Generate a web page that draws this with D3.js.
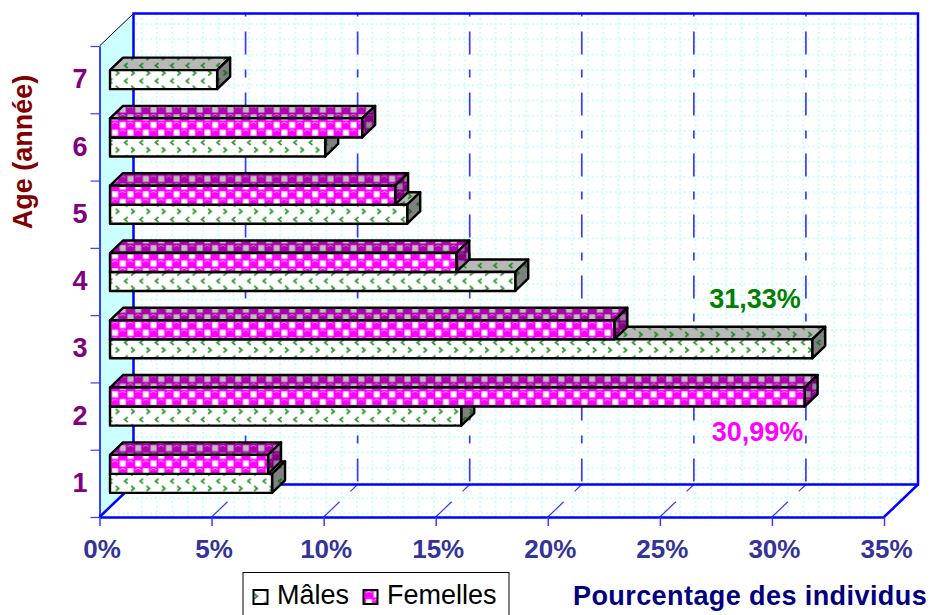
<!DOCTYPE html>
<html><head><meta charset="utf-8">
<script src="https://cdn.jsdelivr.net/npm/d3@7"></script>
<style>html,body{margin:0;padding:0;background:#fff}svg{display:block}text{font-family:"Liberation Sans",Arial,sans-serif}</style>
</head><body><div id="c"></div>
<script>
const ages=["1","2","3","4","5","6","7"];
const males=[7.23,15.67,31.33,18.08,13.26,9.6,4.78];
const females=[7.05,30.99,22.5,15.45,12.72,11.25,null];
const seriesNames=["Mâles","Femelles"];
const xTickValues=[0,5,10,15,20,25,30,35];
const W=932,H=615;
const svg=d3.select("#c").append("svg").attr("width",W).attr("height",H);
const x=d3.scaleLinear().domain([0,35]).range([99.5,884]);
const y=d3.scaleBand().domain(ages).range([517,46]).paddingInner(0.435).paddingOuter(0.2175);
const yEdge=d3.scaleLinear().domain([0,7]).range([517,46]);
const ySeries=d3.scaleBand().domain(seriesNames).range([y.bandwidth(),0]);
const wall={dx:34,dy:-32.5}, bar={dx:13,dy:-12.5}, inset={dx:10.5,dy:-9.5};
const defs=svg.append("defs");
const T=15.39;
function femalePattern(id,bg,sq,hi){
  const p=defs.append("pattern").attr("id",id).attr("patternUnits","userSpaceOnUse").attr("width",T).attr("height",T).attr("x",3.07).attr("y",13.07);
  p.append("rect").attr("width",T).attr("height",T).attr("fill",bg);
  p.append("rect").attr("x",9).attr("y",1.2).attr("width",6).attr("height",6).attr("fill",sq);
  p.append("rect").attr("x",1.3).attr("y",8.9).attr("width",6).attr("height",6).attr("fill",sq);
  [[4.2,4.2],[11.9,11.9]].forEach(c=>{
    p.append("circle").attr("cx",c[0]).attr("cy",c[1]).attr("r",4).attr("fill",bg);
    p.append("path").attr("d",`M${c[0]-2.8} ${c[1]-1.4}q2.8 -2.6 5.6 0`).attr("fill","none").attr("stroke",hi).attr("stroke-width",1);
  });
}
function malePattern(id,bg,col){
  const p=defs.append("pattern").attr("id",id).attr("patternUnits","userSpaceOnUse").attr("width",T).attr("height",T).attr("x",5).attr("y",7.4);
  p.append("rect").attr("width",T).attr("height",T).attr("fill",bg);
  const g=p.append("g").attr("fill","none").attr("stroke",col).attr("stroke-width",1.8);
  g.append("path").attr("d","M3 1.5l3 2.5l-3 2.5");
  g.append("path").attr("d","M15 9.5l-3 2.5l3 2.5");
  g.append("path").attr("d","M-0.39 9.5l-3 2.5l3 2.5");
}
femalePattern("fFront","#ff00ff","#ffffff","#ffb0ff");
femalePattern("fTop","#b000b0","#c0c0c0","#e070e0");
femalePattern("fSide","#800080","#9a809a","#b040b0");
malePattern("mFront","#ffffff","#2f9a2f");
malePattern("mTop","#b8b8b8","#1f8a1f");
malePattern("mSide","#808080","#157015");

const x0=x(0),x1=x(35),yb=yEdge(0),yt=yEdge(7),bx0=x0+wall.dx,bx1=x1+wall.dx,byb=yb+wall.dy,byt=yt+wall.dy;
const poly=(pts)=>"M"+pts.map(p=>p.join(",")).join("L")+"Z";
svg.append("path").attr("d",poly([[x0,yt],[bx0,byt],[bx0,byb],[x0,yb]])).attr("fill","#ccffff");
defs.append("clipPath").attr("id","gridClip").append("path").attr("d",poly([[bx0,byt],[bx1,byt],[bx1,byb],[x1,yb],[x0,yb],[bx0,byb]]));
const gridG=svg.append("g").attr("clip-path","url(#gridClip)").attr("stroke","#ccffff").attr("stroke-width",2).attr("stroke-dasharray","2 2.6");
gridG.selectAll(".gv").data(d3.range(141.6,918,T)).join("line").attr("x1",d=>d).attr("x2",d=>d).attr("y1",byt).attr("y2",yb);
gridG.selectAll(".gh").data(d3.range(24,515,15.3)).join("line").attr("y1",d=>d).attr("y2",d=>d).attr("x1",x0).attr("x2",bx1);
const majorCol="#3a3aff";
const majors=svg.append("g").attr("stroke",majorCol).attr("fill","none");
xTickValues.slice(1,-1).forEach(v=>{
  majors.append("line").attr("x1",x(v)+wall.dx).attr("x2",x(v)+wall.dx).attr("y1",byt).attr("y2",byb).attr("stroke-width",1.7).attr("stroke-dasharray","23 15 8 15").attr("stroke-dashoffset",43);
  majors.append("line").attr("x1",x(v)).attr("y1",yb).attr("x2",x(v)+wall.dx).attr("y2",byb).attr("stroke-width",1.2).attr("stroke-dasharray","22 15 10 14");
});
const frame=svg.append("g").attr("fill","none").attr("stroke","#0000ff");
frame.append("path").attr("d",`M${bx0} ${byb}V${byt}H${bx1}V${byb}H${bx0}`).attr("stroke-width",2.5);
frame.append("path").attr("d",`M${x0} ${yb}L${bx0} ${byb}M${x1} ${yb}L${bx1} ${byb}`).attr("stroke-width",2.5);
svg.append("line").attr("x1",x0).attr("y1",yt).attr("x2",bx0).attr("y2",byt).attr("stroke","#000").attr("stroke-width",1);
const axisX=svg.append("g").attr("transform",`translate(0,${yb})`).call(d3.axisBottom(x).tickValues(xTickValues).tickFormat(d=>d+"%").tickSize(9).tickSizeOuter(0));
axisX.select(".domain").attr("stroke","#0000ff").attr("stroke-width",2.5);
axisX.selectAll(".tick line").attr("stroke","#3a3aff").attr("stroke-width",1.5);
axisX.selectAll("text").attr("x",2).attr("y",41).attr("dy",0).attr("fill","#333399").attr("font-size",26).attr("font-weight","bold").style("font-family",'"Liberation Sans",Arial,sans-serif');
const axisYT=svg.append("g").attr("transform",`translate(${x0},0)`).call(d3.axisLeft(yEdge).tickValues(d3.range(0,8)).tickFormat("").tickSize(9).tickSizeOuter(0));
axisYT.select(".domain").attr("stroke","#0000ff").attr("stroke-width",1.5);
axisYT.selectAll(".tick line").attr("stroke","#3a3aff").attr("stroke-width",1.2);
const axisY=svg.append("g").attr("transform",`translate(${x0},0)`).call(d3.axisLeft(y).tickSize(0).tickSizeOuter(0));
axisY.select(".domain").remove();
axisY.selectAll("text").attr("x",-12).attr("text-anchor","end").attr("fill","#800080").attr("font-size",27).attr("font-weight","bold").style("font-family",'"Liberation Sans",Arial,sans-serif');
function drawBar(g,age,val,name,pf){
  const L=x(0)+inset.dx, R=x(val)+inset.dx, t=y(age)+ySeries(name)+inset.dy, b=t+ySeries.bandwidth();
  const add=(d,fill)=>g.append("path").attr("d",d).attr("fill",fill).attr("stroke","#000").attr("stroke-width",2.4).attr("stroke-linejoin","round");
  add(poly([[L,t],[L+bar.dx,t+bar.dy],[R+bar.dx,t+bar.dy],[R,t]]),`url(#${pf}Top)`);
  add(poly([[R,t],[R+bar.dx,t+bar.dy],[R+bar.dx,b+bar.dy],[R,b]]),`url(#${pf}Side)`);
  add(poly([[L,t],[R,t],[R,b],[L,b]]),`url(#${pf}Front)`);
}
const barsG=svg.append("g");
ages.slice().reverse().forEach(a=>{
  const i=ages.indexOf(a);
  if(males[i]!=null) drawBar(barsG,a,males[i],seriesNames[0],"m");
  if(females[i]!=null) drawBar(barsG,a,females[i],seriesNames[1],"f");
});
const bold=(sel,s)=>sel.attr("font-weight","bold").attr("font-size",s);
bold(svg.append("text").attr("x",755).attr("y",308).attr("text-anchor","middle").attr("fill","#008000").text("31,33%"),27);
bold(svg.append("text").attr("x",757.5).attr("y",441).attr("text-anchor","middle").attr("fill","#ff00ff").text("30,99%"),27);
bold(svg.append("text").attr("transform","translate(32,152) rotate(-90)").attr("text-anchor","middle").attr("fill","#800000").text("Age (année)"),27);
bold(svg.append("text").attr("x",573).attr("y",605).attr("fill","#000080").attr("letter-spacing",0.42).text("Pourcentage des individus"),27);
svg.append("rect").attr("x",243).attr("y",572.5).attr("width",266).attr("height",50).attr("fill","#fff").attr("stroke","#000").attr("stroke-width",1);
[[253,277,"m"],[363,387,"f"]].forEach((l,i)=>{
  svg.append("rect").attr("x",l[0]+.5).attr("y",590).attr("width",14).attr("height",14).attr("fill",`url(#${l[2]}Front)`).attr("stroke","#000").attr("stroke-width",2);
  svg.append("text").attr("x",l[1]).attr("y",604).attr("font-size",27).attr("fill","#000").text(seriesNames[i]);
});
</script></body></html>
